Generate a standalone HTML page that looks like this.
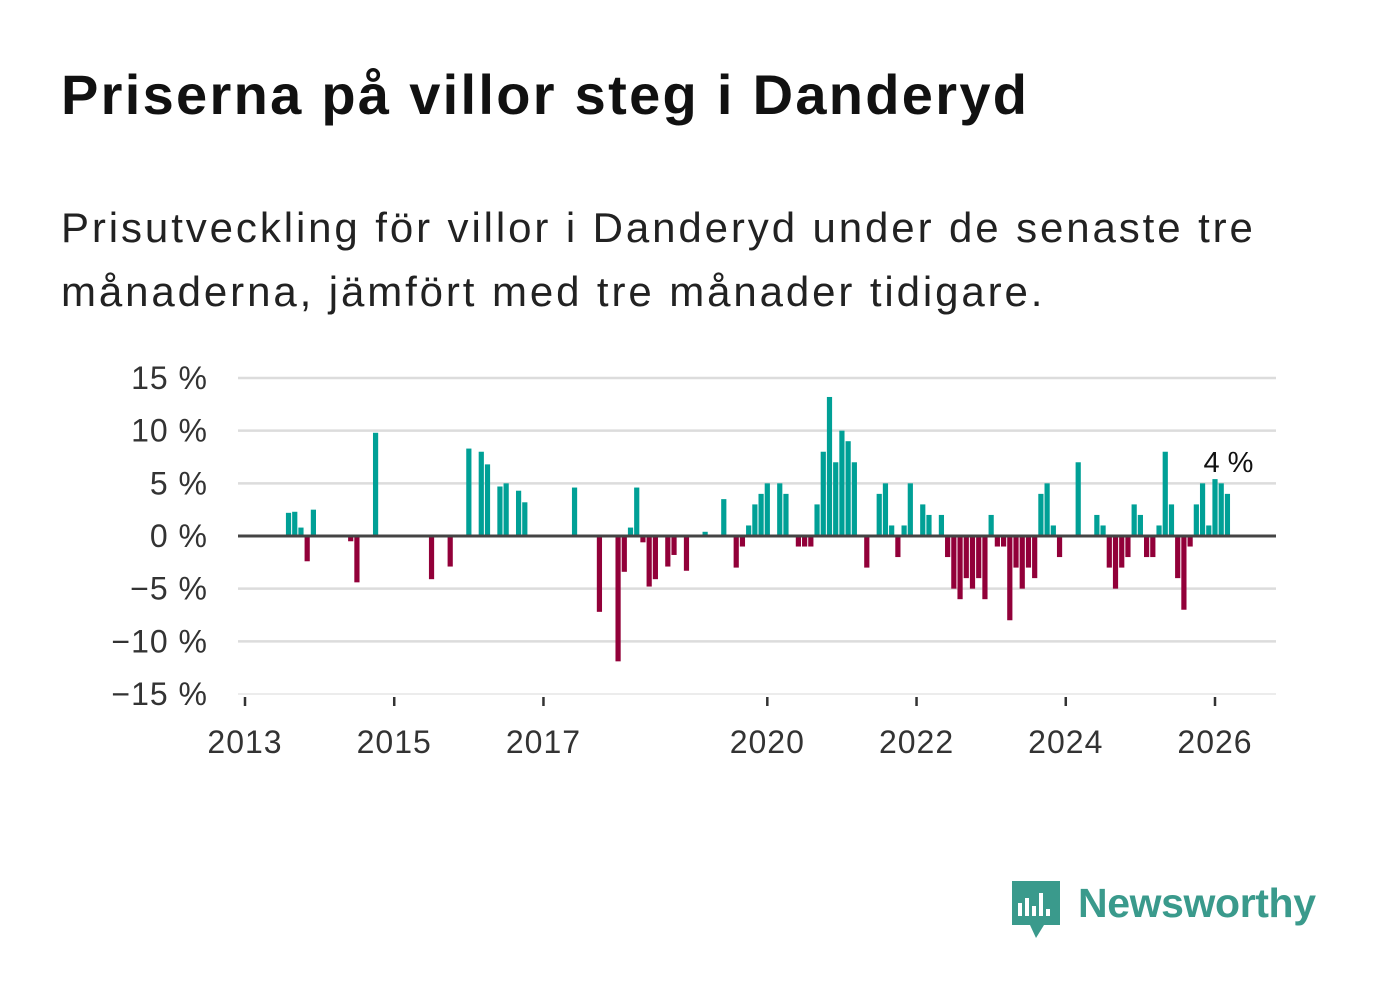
<!DOCTYPE html>
<html><head><meta charset="utf-8">
<style>
body{margin:0;background:#fff;font-family:"Liberation Sans","DejaVu Sans",sans-serif;}
#wrap{position:relative;width:1382px;height:999px;overflow:hidden;}
h1{position:absolute;left:61px;top:62px;margin:0;font-size:56px;font-weight:bold;color:#111;letter-spacing:2.3px;}
p.sub{position:absolute;left:61px;top:196px;margin:0;font-size:42px;line-height:64px;color:#222;width:1320px;letter-spacing:2.9px;}
</style></head><body>
<div id="wrap">
<h1>Priserna på villor steg i Danderyd</h1>
<p class="sub">Prisutveckling för villor i Danderyd under de senaste tre<br>månaderna, jämfört med tre månader tidigare.</p>
<svg id="chart" width="1382" height="999" style="position:absolute;left:0;top:0"></svg>
</div>
<script>
const months=[7,8,9,10,11,17,18,21,30,33,36,38,39,41,42,44,45,53,57,60,61,62,63,64,65,66,68,69,71,74,77,79,80,81,82,83,84,86,87,89,90,91,92,93,94,95,96,97,98,100,102,103,104,105,106,107,109,110,112,113,114,115,116,117,118,119,120,121,122,123,124,125,126,127,128,129,130,131,134,137,138,139,140,141,142,143,144,145,146,147,148,149,150,151,152,153,154,155,156,157,158];
const values=[2.2,2.3,0.8,-2.4,2.5,-0.5,-4.4,9.8,-4.1,-2.9,8.3,8.0,6.8,4.7,5.0,4.3,3.2,4.6,-7.2,-11.9,-3.4,0.8,4.6,-0.6,-4.8,-4.1,-2.9,-1.8,-3.3,0.4,3.5,-3,-1,1,3,4,5,5,4,-1,-1,-1,3,8,13.2,7,10,9,7,-3,4,5,1,-2,1,5,3,2,2,-2,-5,-6,-4,-5,-4,-6,2,-1,-1,-8,-3,-5,-3,-4,4,5,1,-2,7,2,1,-3,-5,-3,-2,3,2,-2,-2,1,8,3,-4,-7,-1,3,5,1,5.4,5,4];
const yTicks=[15,10,5,0,-5,-10,-15];
const yTickLabels=["15 %","10 %","5 %","0 %","−5 %","−10 %","−15 %"];
const xYears=[2013,2015,2017,2020,2022,2024,2026];
const lastLabel="4 %";
const NS="http://www.w3.org/2000/svg";
const svg=document.getElementById('chart');
const x=m=>245+m*(970/156);
const y=v=>536-v*10.533;
function mk(t,a){const e=document.createElementNS(NS,t);for(const k in a)e.setAttribute(k,a[k]);svg.appendChild(e);return e;}
yTicks.forEach((t,i)=>{
  const g=mk('line',{x1:238,x2:1276,y1:y(t),y2:y(t),stroke:t===-15?'#e6e6e6':'#dcdcdc','stroke-width':t===-15?1.5:2.5});
  
  
  const l=mk('text',{x:208,y:y(t)+11,'text-anchor':'end','font-size':32,fill:'#333','letter-spacing':1});
  l.textContent=yTickLabels[i];
  
  
});
months.forEach((m,i)=>{
  const v=values[i];
  const r=mk('rect',{x:x(m)-2.6,width:5.2,y:v>=0?y(v):y(0),height:Math.abs(y(v)-y(0)),fill:v>=0?'#00a096':'#920039'});
  
  
});
const z=mk('line',{x1:238,x2:1276,y1:y(0),y2:y(0),stroke:'#444','stroke-width':3});


xYears.forEach(yr=>{
  const xm=x((yr-2013)*12);
  const t=mk('line',{x1:xm,x2:xm,y1:697,y2:706,stroke:'#333','stroke-width':2.5});
  
  
  const l=mk('text',{x:xm,y:753,'text-anchor':'middle','font-size':32,fill:'#333','letter-spacing':1});
  l.textContent=yr;
  
  
});
const lm=months[months.length-1];
const ll=mk('text',{x:x(lm)+1,y:472,'text-anchor':'middle','font-size':29,fill:'#111'});
ll.textContent=lastLabel;


const lg=mk('g',{});


lg.innerHTML='<path d="M1012 881 h48 v44 h-16 l-8 13 l-6 -13 h-18 z" fill="#3a9a8c"/>'+
'<rect x="1018" y="903" width="4" height="13" fill="#fff"/><rect x="1025" y="898" width="4" height="18" fill="#fff"/><rect x="1032" y="906" width="4" height="10" fill="#fff"/><rect x="1039" y="893" width="4" height="23" fill="#fff"/><rect x="1046" y="909" width="4" height="7" fill="#fff"/>'+
'<text x="1078" y="917" font-size="41" font-weight="bold" fill="#3a9a8c" textLength="238">Newsworthy</text>';
</script>
</body></html>
